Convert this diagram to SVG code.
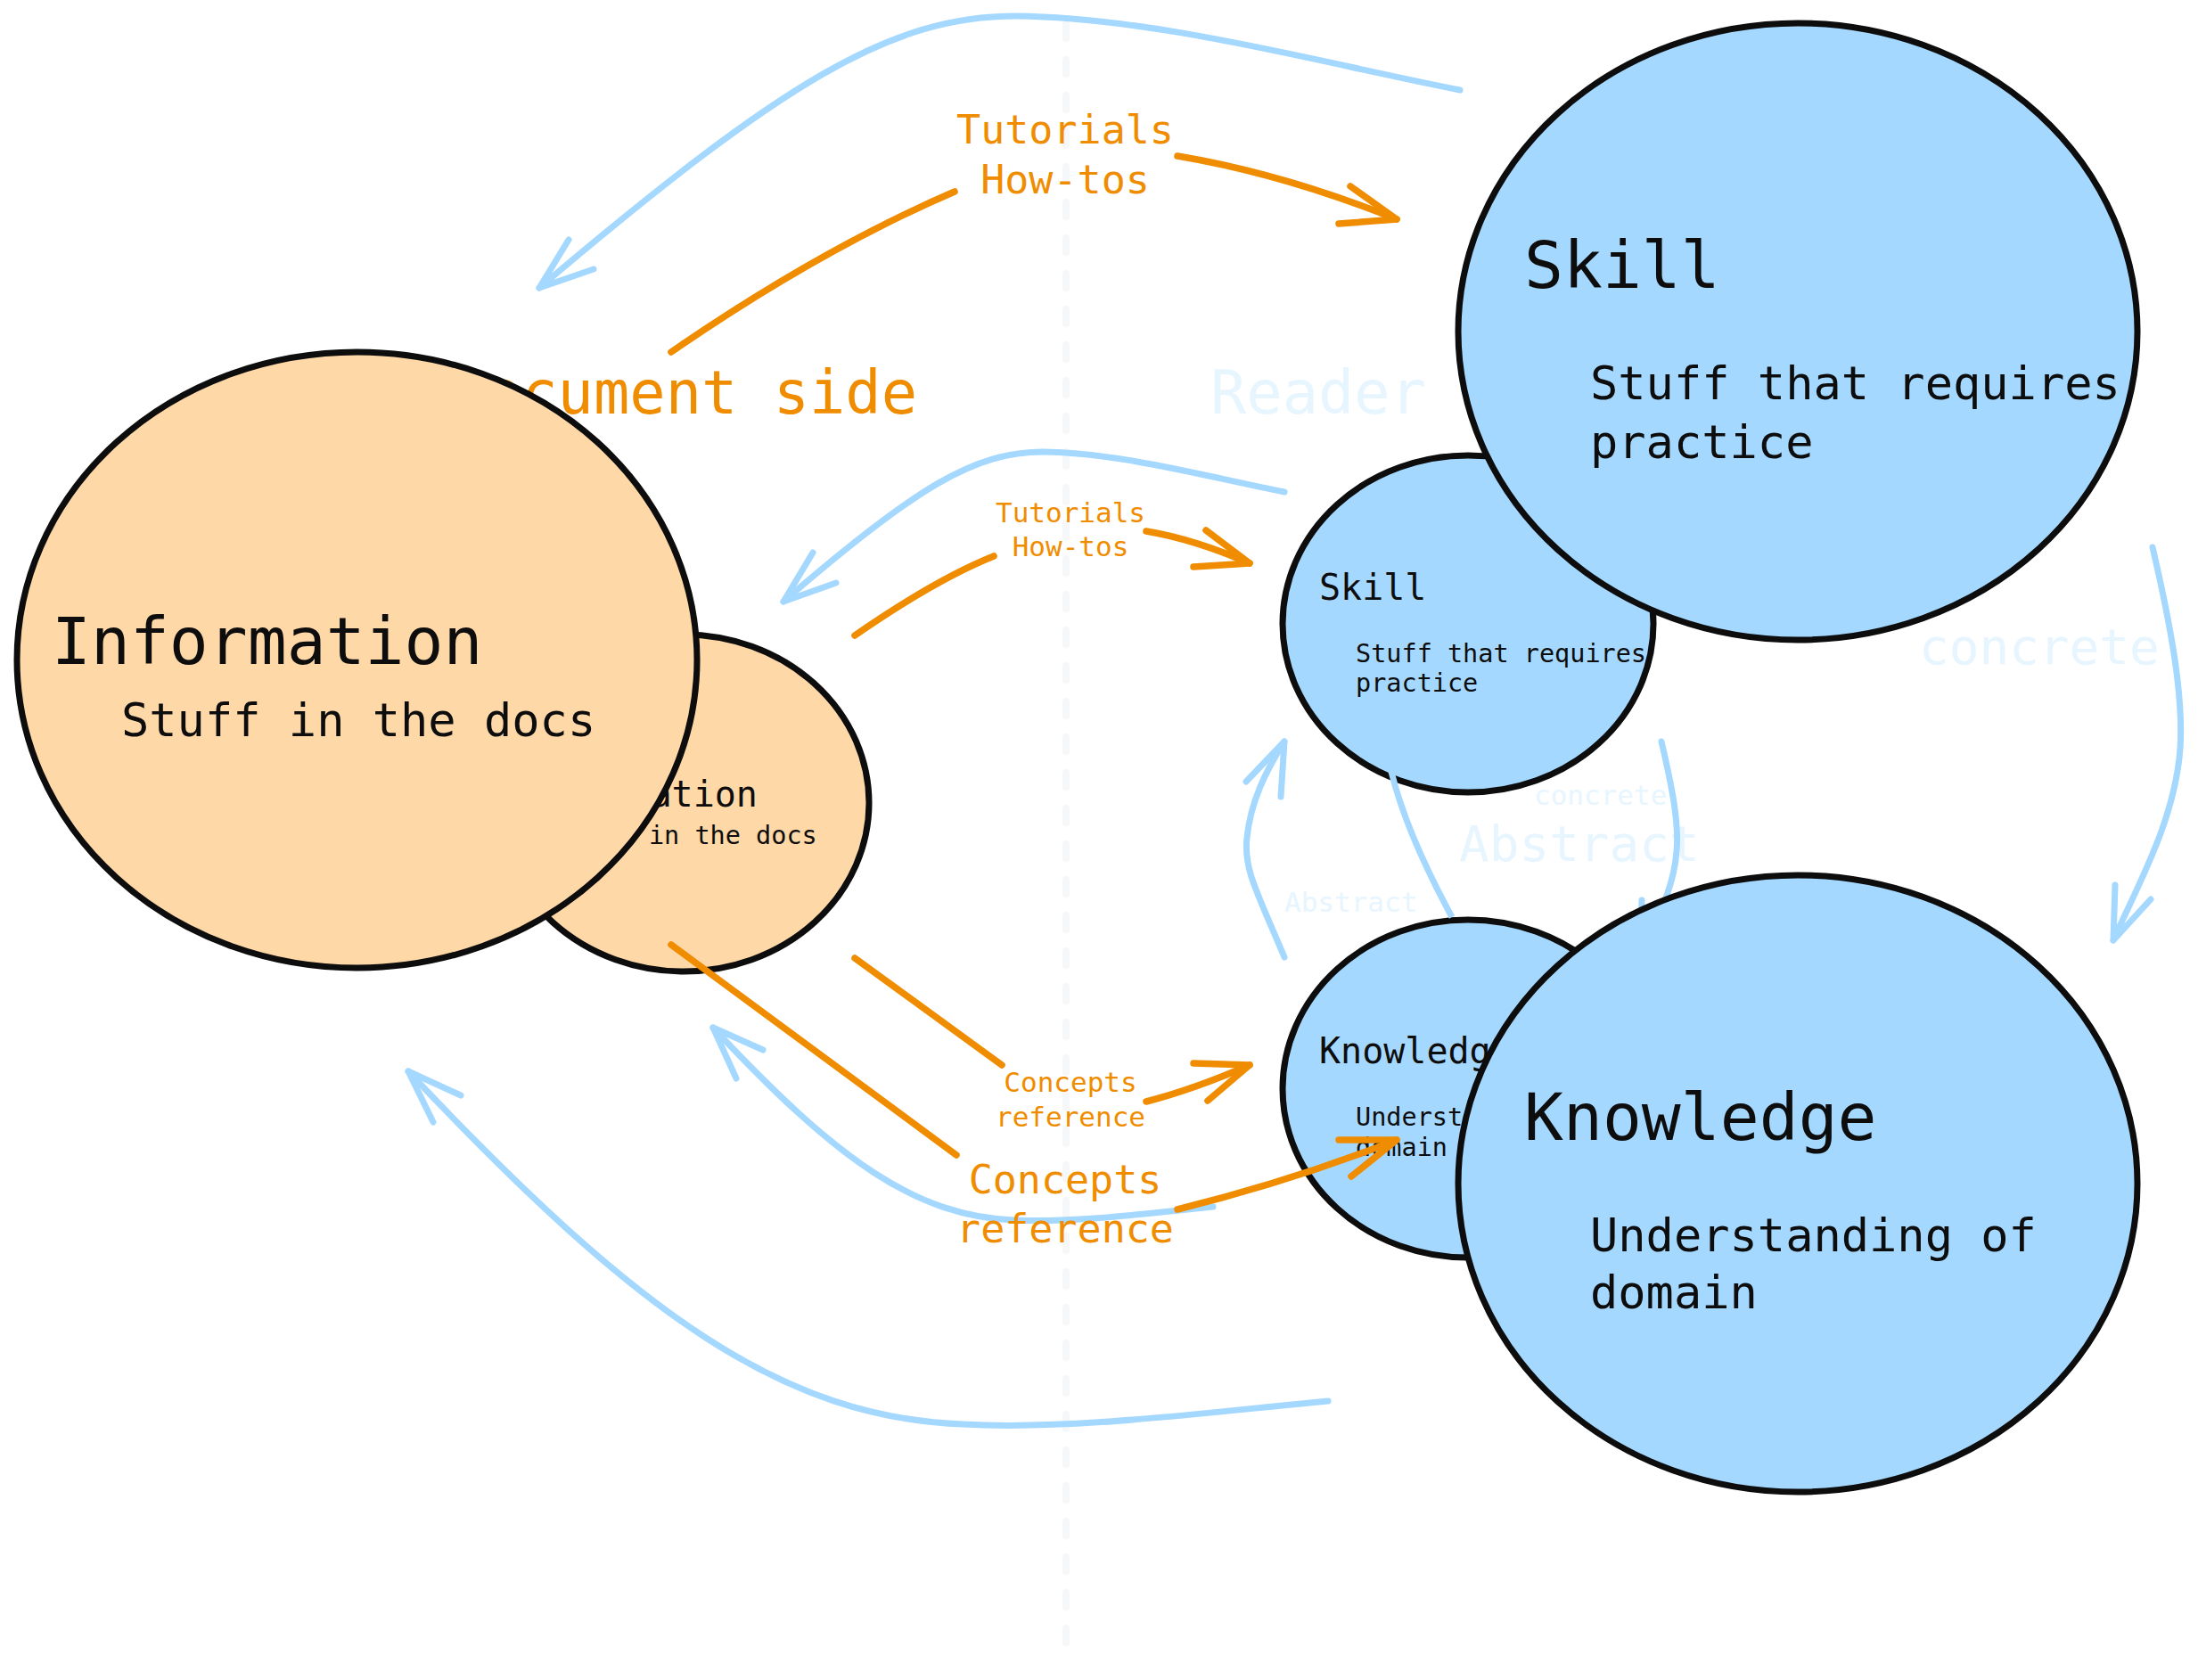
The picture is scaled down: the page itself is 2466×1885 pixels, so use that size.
<svg xmlns="http://www.w3.org/2000/svg" width="2466" height="1885" viewBox="0 0 2466 1885">
<defs>
<style>
.bg{fill:#ffffff}
.divider{fill:none;stroke:#f6f7f8;stroke-width:8;stroke-linecap:round;stroke-dasharray:16 24}
.txt{font-family:"DejaVu Sans Mono","Liberation Mono",monospace;fill:#0d0d0d}
.otxt{font-family:"DejaVu Sans Mono","Liberation Mono",monospace;fill:#f08c00}
.ftxt{font-family:"DejaVu Sans Mono","Liberation Mono",monospace;fill:#e7f5ff}
.info{fill:#ffd8a8;stroke:#0d0d0d;stroke-width:7}
.reader{fill:#a5d8ff;stroke:#0d0d0d;stroke-width:7}
.ol{fill:none;stroke:#f08c00;stroke-width:7.5;stroke-linecap:round;stroke-linejoin:round}
.bl{fill:none;stroke:#a5d8ff;stroke-width:7;stroke-linecap:round;stroke-linejoin:round}
</style>
</defs>
<rect class="bg" x="0" y="0" width="2466" height="1885"/>
<line class="divider" x1="1196" y1="27" x2="1196" y2="1845"/>
<g id="side-labels">
<text class="otxt" x="1029" y="464" font-size="67" text-anchor="end">Document side</text>
<text class="ftxt" x="1358" y="464" font-size="67">Reader side</text>
</g>
<g id="small-information">
<ellipse class="info" cx="767" cy="901" rx="208" ry="189"/>
<text class="txt" x="585" y="905" font-size="40">Information</text>
<text class="txt" x="625" y="947" font-size="28.5">Stuff in the docs</text>
</g>
<g id="small-skill">
<ellipse class="reader" cx="1647" cy="700" rx="208" ry="189"/>
<text class="txt" x="1480" y="673" font-size="40">Skill</text>
<text class="txt" x="1521" y="743" font-size="28.5">Stuff that requires</text>
<text class="txt" x="1521" y="776" font-size="28.5">practice</text>
</g>
<g id="small-knowledge">
<ellipse class="reader" cx="1647" cy="1221.5" rx="208" ry="189.5"/>
<text class="txt" x="1480" y="1193" font-size="40">Knowledge</text>
<text class="txt" x="1521" y="1263" font-size="28.5">Understanding of</text>
<text class="txt" x="1521" y="1297" font-size="28.5">domain</text>
</g>
<g id="connectors">
<path class="bl" style="stroke-linecap:butt" d="M1561 866 Q1578 935 1629 1029"/>
<text class="ftxt" x="1637" y="966" font-size="56">Abstract</text>
<path class="bl" d="M2415 614 C2435 700 2450 780 2446 840 C2440 920 2400 990 2371 1055"/>
<path class="bl" d="M2373 993 L2371 1055 L2413 1009"/>
<text class="ftxt" x="2153" y="745" font-size="56">concrete</text>
<path class="bl" d="M1441 1074 C1410 1000 1395 975 1399 940 C1403 900 1420 865 1441 832"/>
<path class="bl" d="M1398 877 L1441 832 L1437 894"/>
<text class="ftxt" x="1441" y="1023" font-size="31">Abstract</text>
<path class="bl" d="M1864 832 C1875 879 1884 922 1881 955 C1878 999 1856 1037 1840 1072"/>
<path class="bl" d="M1842 1010 L1840 1072 L1882 1026"/>
<text class="ftxt" x="1721" y="903" font-size="31">concrete</text>
<path class="bl" d="M1638 101 C1480 70 1300 20 1140 18 C1000 18 880 90 605 323"/>
<path class="bl" d="M638 269 L605 323 L666 302"/>
<path class="bl" d="M1490 1572 C1350 1585 1200 1605 1080 1598 C880 1590 720 1480 458 1202"/>
<path class="bl" d="M486 1259 L458 1202 L517 1229"/>
<path class="bl" d="M1441 552 C1355 535 1257 508 1170 507 C1094 507 1028 546 879 675"/>
<path class="bl" d="M912 620 L879 675 L938 654"/>
<path class="bl" d="M1361 1354 C1284 1362 1203 1372 1137 1369 C1028 1364 941 1304 800 1153"/>
<path class="bl" d="M826 1210 L800 1153 L856 1178"/>
<path class="ol" d="M753 395 Q920 280 1071 215"/>
<path class="ol" d="M1321 175 Q1440 195 1567 246"/>
<path class="ol" d="M1515 209 L1567 246 L1502 251"/>
<text class="otxt" x="1195" y="161" font-size="45" text-anchor="middle">Tutorials</text>
<text class="otxt" x="1195" y="217" font-size="45" text-anchor="middle">How-tos</text>
<path class="ol" d="M753 1060 Q910 1175 1073 1296"/>
<path class="ol" d="M1321 1357 Q1450 1325 1567 1279"/>
<path class="ol" d="M1502 1279 L1567 1279 L1516 1320"/>
<text class="otxt" x="1195" y="1339" font-size="45" text-anchor="middle">Concepts</text>
<text class="otxt" x="1195" y="1394" font-size="45" text-anchor="middle">reference</text>
<path class="ol" d="M959 713 Q1050 650 1115 624"/>
<path class="ol" d="M1286 596 Q1340 605 1402 632"/>
<path class="ol" d="M1353 595 L1402 632 L1339 636"/>
<text class="otxt" x="1201" y="586" font-size="31" text-anchor="middle">Tutorials</text>
<text class="otxt" x="1201" y="624" font-size="31" text-anchor="middle">How-tos</text>
<path class="ol" d="M959 1075 Q1045 1138 1124 1195"/>
<path class="ol" d="M1286 1236 Q1340 1222 1402 1195"/>
<path class="ol" d="M1339 1193 L1402 1195 L1355 1235"/>
<text class="otxt" x="1201" y="1225" font-size="31" text-anchor="middle">Concepts</text>
<text class="otxt" x="1201" y="1264" font-size="31" text-anchor="middle">reference</text>
</g>
<g id="information">
<ellipse class="info" cx="400.5" cy="740.5" rx="381.5" ry="345.5"/>
<text class="txt" x="58" y="745" font-size="73">Information</text>
<text class="txt" x="136" y="826" font-size="52">Stuff in the docs</text>
</g>
<g id="skill">
<ellipse class="reader" cx="2017" cy="372" rx="381" ry="346"/>
<text class="txt" x="1710" y="323" font-size="73">Skill</text>
<text class="txt" x="1784" y="448" font-size="52">Stuff that requires</text>
<text class="txt" x="1784" y="514" font-size="52">practice</text>
</g>
<g id="knowledge">
<ellipse class="reader" cx="2017" cy="1328" rx="381" ry="346"/>
<text class="txt" x="1710" y="1279" font-size="73">Knowledge</text>
<text class="txt" x="1784" y="1404" font-size="52">Understanding of</text>
<text class="txt" x="1784" y="1468" font-size="52">domain</text>
</g>
</svg>
